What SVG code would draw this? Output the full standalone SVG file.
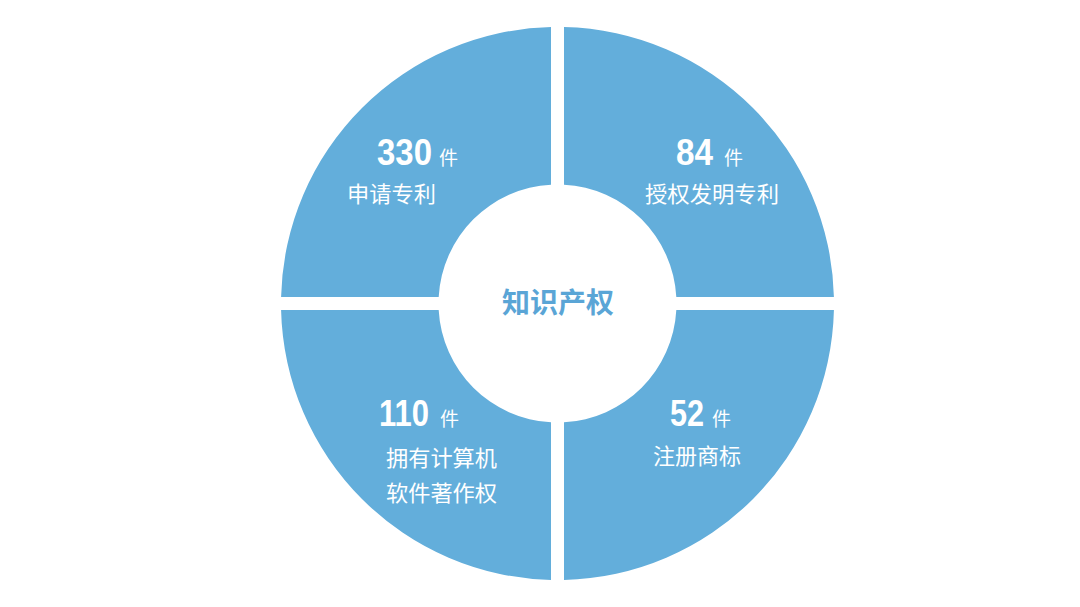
<svg xmlns="http://www.w3.org/2000/svg" width="1080" height="607" viewBox="0 0 1080 607">
<style>
.q{fill:#63aedb}
.num{font-family:"Liberation Sans","DejaVu Sans",sans-serif;font-weight:bold;font-size:37px;fill:#ffffff}
.unit{font-family:"Noto Sans CJK SC",sans-serif;font-size:19px;fill:#ffffff}
.lbl{font-family:"Noto Sans CJK SC",sans-serif;font-size:22px;fill:#ffffff}
.ctr{font-family:"Noto Sans CJK SC",sans-serif;font-weight:bold;font-size:28px;fill:#5aa5d6}
</style>
<rect width="1080" height="607" fill="#ffffff"/>
<g id="q-apply">
<path class="q" d="M281.08,297 A276.5,276.5 0 0 1 551,27.08 L551,184.68 A119,119 0 0 0 438.68,297 Z"/>
<text class="num" x="377" y="165" textLength="55" lengthAdjust="spacingAndGlyphs">330</text>
<text class="unit" x="439" y="165">件</text>
<text class="lbl" x="347" y="202" textLength="89" lengthAdjust="spacingAndGlyphs">申请专利</text>
</g>
<g id="q-granted">
<path class="q" d="M564,27.08 A276.5,276.5 0 0 1 833.92,297 L676.32,297 A119,119 0 0 0 564,184.68 Z"/>
<text class="num" x="676" y="165" textLength="37" lengthAdjust="spacingAndGlyphs">84</text>
<text class="unit" x="724" y="165">件</text>
<text class="lbl" x="645" y="202" textLength="134" lengthAdjust="spacingAndGlyphs">授权发明专利</text>
</g>
<g id="q-software">
<path class="q" d="M551,579.92 A276.5,276.5 0 0 1 281.08,310 L438.68,310 A119,119 0 0 0 551,422.32 Z"/>
<text class="num" x="379" y="426" textLength="50" lengthAdjust="spacingAndGlyphs">110</text>
<text class="unit" x="440" y="426">件</text>
<text class="lbl" x="386" y="466" textLength="111" lengthAdjust="spacingAndGlyphs">拥有计算机</text>
<text class="lbl" x="386" y="501" textLength="111" lengthAdjust="spacingAndGlyphs">软件著作权</text>
</g>
<g id="q-trademark">
<path class="q" d="M833.92,310 A276.5,276.5 0 0 1 564,579.92 L564,422.32 A119,119 0 0 0 676.32,310 Z"/>
<text class="num" x="670" y="426" textLength="34" lengthAdjust="spacingAndGlyphs">52</text>
<text class="unit" x="712" y="426">件</text>
<text class="lbl" x="653" y="464" textLength="88" lengthAdjust="spacingAndGlyphs">注册商标</text>
</g>
<g id="center">
<text class="ctr" x="502" y="313" textLength="112" lengthAdjust="spacingAndGlyphs">知识产权</text>
</g>
<g id="connectors"></g>
</svg>
